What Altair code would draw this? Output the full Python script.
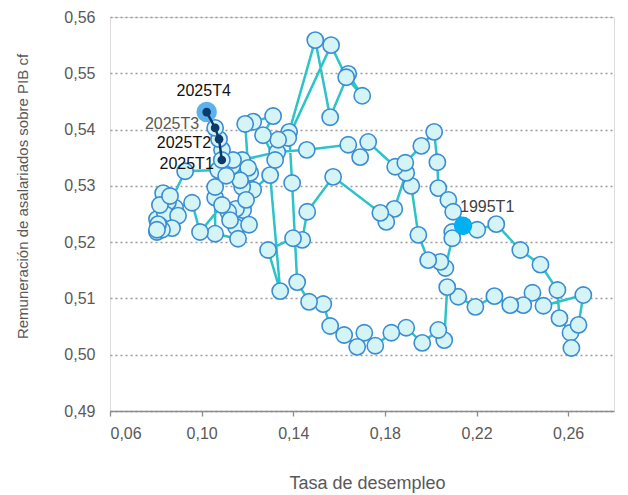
import altair as alt
import pandas as pd

# Tasa de desempleo (x) y remuneración de asalariados sobre PIB cf (y), 1995T1-2025T4
desempleo = [
    0.2141, 0.2094, 0.2094, 0.2064, 0.2042, 0.1989, 0.1946, 0.1915, 0.1893, 0.1841,
    0.1806, 0.1780, 0.1574, 0.1461, 0.1439, 0.1399, 0.1290, 0.1343, 0.1299, 0.1225,
    0.1177, 0.1181, 0.1150, 0.1116, 0.1150, 0.1207, 0.1159, 0.1059, 0.1059, 0.1059,
    0.1137, 0.1212, 0.1194, 0.1124, 0.1089, 0.0993, 0.0958, 0.0884, 0.0853, 0.0832,
    0.0805, 0.0866, 0.0805, 0.0840, 0.0897, 0.0818, 0.0862, 0.0818, 0.0871, 0.0827,
    0.0810, 0.0805,
    0.0928, 0.1072, 0.1177, 0.1330, 0.1459, 0.1640, 0.1692, 0.1727, 0.1845, 0.1889,
    0.1959, 0.2015, 0.2029, 0.2033, 0.2077, 0.2098, 0.2203, 0.2286, 0.2391, 0.2479,
    0.2553, 0.2562, 0.2610, 0.2614,
    0.2645, 0.2666, 0.2492, 0.2444, 0.2404, 0.2347, 0.2278, 0.2195, 0.2120, 0.2072,
    0.2059, 0.2033, 0.1963, 0.1893, 0.1828, 0.1758, 0.1710, 0.1679, 0.1622, 0.1561,
    0.1531, 0.1469, 0.1417, 0.1395,
    0.1382, 0.1496, 0.1561, 0.1640, 0.1701, 0.1631, 0.1565, 0.1378, 0.1334, 0.1321,
    0.1268, 0.1312, 0.1225, 0.1190, 0.1203, 0.1168, 0.1133, 0.1107, 0.1137, 0.1089,
    0.1088, 0.1076, 0.1059, 0.1022,
]
remuneracion = [
    0.5229, 0.5218, 0.5207, 0.5154, 0.5165, 0.5168, 0.5213, 0.5300, 0.5323, 0.5259,
    0.5236, 0.5252, 0.5316, 0.5254, 0.5204, 0.5207, 0.5186, 0.5113, 0.5319, 0.5293,
    0.5298, 0.5257, 0.5259, 0.5254, 0.5227, 0.5231, 0.5206, 0.5215, 0.5279, 0.5298,
    0.5323, 0.5323, 0.5275, 0.5239, 0.5266, 0.5218, 0.5270, 0.5261, 0.5271, 0.5287,
    0.5241, 0.5232, 0.5218, 0.5250, 0.5247, 0.5266, 0.5282, 0.5229, 0.5225, 0.5222,
    0.5232, 0.5222,
    0.5326, 0.5328, 0.5346, 0.5360, 0.5364, 0.5373, 0.5351, 0.5378, 0.5334, 0.5341,
    0.5371, 0.5396, 0.5342, 0.5296, 0.5275, 0.5254, 0.5222, 0.5232, 0.5186, 0.5160,
    0.5115, 0.5065, 0.5039, 0.5012,
    0.5053, 0.5106, 0.5087, 0.5110, 0.5088, 0.5088, 0.5104, 0.5085, 0.5103, 0.5120,
    0.5026, 0.5044, 0.5021, 0.5048, 0.5039, 0.5016, 0.5039, 0.5014, 0.5035, 0.5051,
    0.5090, 0.5094, 0.5129, 0.5305,
    0.5396, 0.5559, 0.5422, 0.5499, 0.5460, 0.5493, 0.5550, 0.5385, 0.5382, 0.5346,
    0.5390, 0.5424, 0.5414, 0.5410, 0.5332, 0.5310, 0.5335, 0.5318, 0.5346, 0.5364,
    0.5346, 0.5383, 0.5403, 0.5431,
]
periodos = [f"{a}T{t}" for a in range(1995, 2026) for t in range(1, 5)]

x_ticks = [0.06, 0.10, 0.14, 0.18, 0.22, 0.26]
y_ticks = [0.49, 0.50, 0.51, 0.52, 0.53, 0.54, 0.55, 0.56]

df = pd.DataFrame({
    "periodo": periodos,
    "desempleo": desempleo,
    "remuneracion": remuneracion,
    "orden": list(range(len(periodos))),
})
df25 = df[df["periodo"].str.startswith("2025")]

FONT = "Liberation Sans"
GREY = "#595959"

x_enc = alt.X(
    "desempleo:Q",
    scale=alt.Scale(domain=[0.06, 0.28], nice=False, zero=False),
    axis=alt.Axis(
        values=x_ticks,
        labelExpr="replace(format(datum.value, '.2f'), '.', ',')",
        grid=False, domain=True, domainColor="#8c8c8c", domainWidth=1.3,
        ticks=True, tickColor="#8c8c8c", tickSize=5, tickWidth=1.3,
        labelColor=GREY, labelFontSize=16, labelPadding=9, labelFont=FONT,
        title="Tasa de desempleo", titleColor=GREY, titleFontSize=18,
        titleFontWeight="normal", titleFont=FONT,
        titleX=257, titleY=72, titleBaseline="middle",
    ),
)
y_enc = alt.Y(
    "remuneracion:Q",
    scale=alt.Scale(domain=[0.49, 0.56], nice=False, zero=False),
    axis=alt.Axis(
        values=y_ticks,
        labelExpr="replace(format(datum.value, '.2f'), '.', ',')",
        grid=True, gridColor="#9a9a9a", gridDash=[2, 3], gridWidth=1.5,
        domain=False, ticks=False,
        labelColor=GREY, labelFontSize=16, labelPadding=15, labelFont=FONT,
        title="Remuneración de asalariados sobre PIB cf", titleColor=GREY,
        titleFontSize=15, titleFontWeight="normal", titleFont=FONT,
        titleX=-88, titleY=179, titleBaseline="middle",
    ),
)

base = alt.Chart(df)

linea = base.mark_line(color="#2cc3c9", strokeWidth=2.5).encode(
    x=x_enc, y=y_enc, order="orden:Q")
puntos = base.mark_circle(size=265, color="#d5f4f6", opacity=1,
                          stroke="#3b8dd3", strokeWidth=1.6).encode(
    x=x_enc, y=y_enc, order="orden:Q")

p95 = alt.Chart(df[df["periodo"] == "1995T1"]).mark_circle(
    size=340, color="#00b0f0", opacity=1).encode(x=x_enc, y=y_enc)

halo = alt.Chart(df[df["periodo"] == "2025T4"]).mark_circle(
    size=420, color="#5cb2ec", opacity=1).encode(x=x_enc, y=y_enc)

linea25 = alt.Chart(df25).mark_line(color="#0c3b6b", strokeWidth=2.5).encode(
    x=x_enc, y=y_enc, order="orden:Q")
puntos25 = alt.Chart(df25).mark_circle(size=75, color="#0c3b6b", opacity=1).encode(
    x=x_enc, y=y_enc)


def etiqueta(periodo, dx, dy, align, color):
    return alt.Chart(df[df["periodo"] == periodo]).mark_text(
        dx=dx, dy=dy, align=align, baseline="middle", fontSize=16,
        font=FONT, color=color).encode(x=x_enc, y=y_enc, text="periodo:N")


labels = [
    etiqueta("2025T4", -3, -21, "center", "#111111"),
    etiqueta("2025T3", -16, -4, "right", GREY),
    etiqueta("2025T2", -8, 4, "right", "#111111"),
    etiqueta("2025T1", -8, 4, "right", "#111111"),
    etiqueta("1995T1", -3, -19, "left", "#404040"),
]

chart = alt.layer(linea, puntos, p95, halo, linea25, puntos25, *labels).properties(
    width=504, height=394,
    autosize=alt.AutoSizeParams(type="none"),
    padding={"left": 102, "top": 9, "right": 5, "bottom": 90},
    background="white",
).configure_view(stroke=None).configure(font=FONT)

chart.save("out.html", embed_options={"renderer": "svg", "actions": False})
